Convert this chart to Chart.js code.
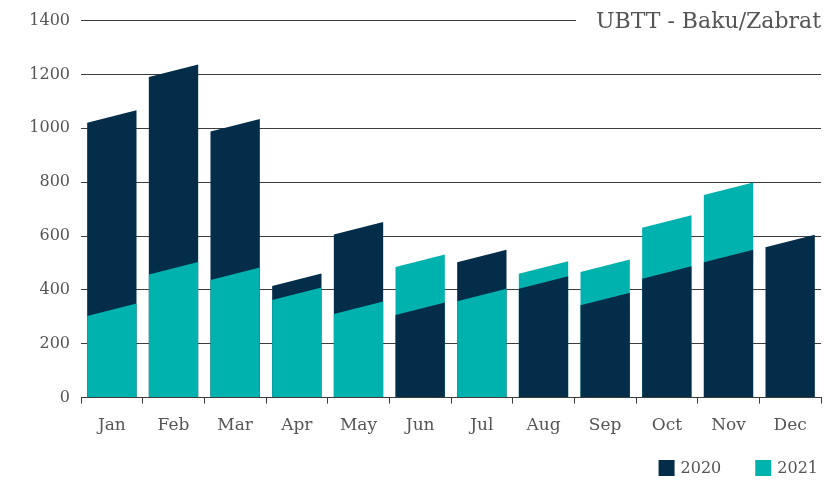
<!DOCTYPE html>
<html>
<head>
<meta charset="utf-8">
<script src="https://cdn.jsdelivr.net/npm/chart.js@4"></script>
<style>
  html,body{margin:0;padding:0;background:#fff}
  #wrap{width:830px;height:480px}
</style>
</head>
<body>
<div id="wrap"><canvas id="c"></canvas></div>
<script>
// data
var months=["Jan","Feb","Mar","Apr","May","Jun","Jul","Aug","Sep","Oct","Nov","Dec"]
var values2020=[1044,1214,1011,438,629,330,526,427,366,465,526,582]
var values2021=[326,480,460,386,334,508,381,483,490,654,776,null]
var seriesNames=["2020","2021"]
var yTicks=[0,200,400,600,800,1000,1200,1400]

var titleText="UBTT - Baku/Zabrat"

var color_dark="#032d48"
var color_teal="#00b2ae"
var text_color="#555555"
var grid_color="#3c3c3c"
var font_family="'DejaVu Serif', serif"
var slant=12.5   // px drop between right and left top corner

// draws the bars with a slanted top, taller one behind
const slantBars={
  id:'slantBars',
  beforeDatasetsDraw:(chart)=>{
    const {ctx}=chart
    const metas=chart.data.datasets.map((d,i)=>chart.getDatasetMeta(i))
    ctx.save()
    for(var j=0;j<months.length;j++){
      var bars=[]
      metas.forEach((m,i)=>{
        var v=chart.data.datasets[i].data[j]
        if(v!==null && v!==undefined){
          bars.push({el:m.data[j],v:v,color:chart.data.datasets[i].backgroundColor})
        }
      })
      bars.sort((a,b)=>b.v-a.v)
      bars.forEach(b=>{
        var p=b.el.getProps(['x','y','base','width'],true)
        var l=p.x-p.width/2, r=p.x+p.width/2
        ctx.beginPath()
        ctx.moveTo(l,p.base)
        ctx.lineTo(l,p.y+slant/2)
        ctx.lineTo(r,p.y-slant/2)
        ctx.lineTo(r,p.base)
        ctx.closePath()
        ctx.fillStyle=b.color
        ctx.fill()
      })
    }
    ctx.restore()
    return false
  }
}

// title on the top grid line + legend in the bottom right corner
const extras={
  id:'extras',
  afterDraw:(chart)=>{
    const {ctx,chartArea}=chart
    var y=chart.scales.y.getPixelForValue(yTicks[yTicks.length-1])
    ctx.save()
    ctx.font="22px "+font_family
    var w=ctx.measureText(titleText).width
    var xr=chartArea.right+1
    ctx.fillStyle="#fff"
    ctx.fillRect(xr-w-21,y-3,w+30,6)
    ctx.fillStyle=text_color
    ctx.textAlign="right"
    ctx.textBaseline="middle"
    ctx.fillText(titleText,xr-1,y+2)

    // legend
    ctx.font="16px "+font_family
    ctx.textAlign="left"
    var ly=468, x=818
    var items=chart.data.datasets.slice().reverse()
    items.forEach((d,k)=>{
      var tw=ctx.measureText(d.label).width
      x-=tw
      ctx.fillStyle=text_color
      ctx.fillText(d.label,x,ly+1)
      x-=6+16
      ctx.fillStyle=d.backgroundColor
      ctx.fillRect(x,ly-8,16,16)
      x-=34
    })
    ctx.restore()
  }
}

var chart=new Chart(document.getElementById('c'),{
  type:'bar',
  data:{
    labels:months,
    datasets:[
      {label:seriesNames[0],data:values2020,backgroundColor:color_dark},
      {label:seriesNames[1],data:values2021,backgroundColor:color_teal}
    ]
  },
  options:{
    responsive:true,
    maintainAspectRatio:false,
    animation:false,
    devicePixelRatio:1,
    layout:{padding:{left:0,right:9,top:11,bottom:32}},
    datasets:{bar:{grouped:false,barPercentage:0.8,categoryPercentage:1}},
    plugins:{
      title:{display:false},
      tooltip:{enabled:false},
      legend:{display:false}
    },
    scales:{
      x:{
        offset:true,
        border:{display:true,color:grid_color,width:1},
        grid:{display:true,drawOnChartArea:false,drawTicks:true,tickLength:6,color:grid_color,offset:true},
        ticks:{color:text_color,padding:12,font:{family:font_family,size:17}}
      },
      y:{
        min:0,max:1400,
        afterBuildTicks:(s)=>{s.ticks=yTicks.map(v=>({value:v}))},
        afterFit:(s)=>{s.width=81},
        border:{display:false},
        grid:{color:grid_color,lineWidth:1,drawTicks:false},
        ticks:{color:text_color,padding:11,font:{family:font_family,size:16},callback:(v)=>String(v)}
      }
    }
  },
  plugins:[slantBars,extras]
})
</script>
</body>
</html>
